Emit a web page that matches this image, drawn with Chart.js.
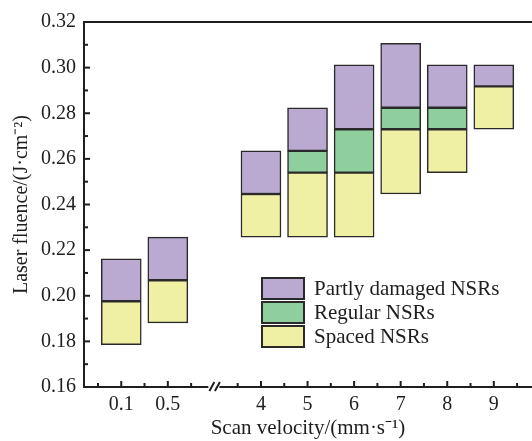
<!DOCTYPE html>
<html>
<head>
<meta charset="utf-8">
<title>Laser fluence vs scan velocity</title>
<script src="https://cdn.jsdelivr.net/npm/chart.js@4.4.1/dist/chart.umd.min.js"></script>
<style>
  html, body { margin: 0; padding: 0; background: #fff; }
  #wrap { width: 532px; height: 441px; }
</style>
</head>
<body>
<div id="wrap"><canvas id="chart" width="532" height="441"></canvas></div>
<script>
// scan velocities (mm/s); an axis break sits between 0.5 and 4
var velocities = ['0.1', '0.5', '4', '5', '6', '7', '8', '9'];
var breakAfter = 1;

// fluence ranges [low, high] in J/cm^2, null = not observed
var partlyDamaged = [[0.1976, 0.2162], [0.2068, 0.2257], [0.2446, 0.2635], [0.2635, 0.2824],
                     [0.2730, 0.3012], [0.2824, 0.3107], [0.2824, 0.3012], [0.2918, 0.3012]];
var regular       = [null, null, null, [0.2540, 0.2635],
                     [0.2540, 0.2730], [0.2730, 0.2824], [0.2730, 0.2824], null];
var spaced        = [[0.1786, 0.1976], [0.1881, 0.2068], [0.2257, 0.2446], [0.2257, 0.2540],
                     [0.2257, 0.2540], [0.2446, 0.2730], [0.2540, 0.2730], [0.2730, 0.2918]];

var yTicks = [0.16, 0.18, 0.20, 0.22, 0.24, 0.26, 0.28, 0.30, 0.32];

var FONT = "'Liberation Serif', 'Times New Roman', serif";
var INK = '#1e1e1e';

// position of each category on the linear x axis (one slot skipped for the break)
function slot(i) { return i > breakAfter ? i + 1 : i; }
var breakPos = breakAfter + 1;

function toPoints(ranges) {
    var pts = [];
    ranges.forEach(function (r, i) {
        if (r) pts.push({ x: slot(i), y: r });
    });
    return pts;
}

function makeSet(label, ranges, color) {
    return {
        label: label,
        data: toPoints(ranges),
        backgroundColor: color,
        borderColor: '#2a2a2a',
        borderWidth: 1.5,
        borderSkipped: false,
        barThickness: 40,
        grouped: false
    };
}

// inward ticks, top frame, axis break and legend
var extras = {
    id: 'extras',
    afterDraw: function (chart) {
        var ctx = chart.ctx;
        var xs = chart.scales.x, ys = chart.scales.y;
        var area = chart.chartArea;
        ctx.save();
        ctx.strokeStyle = INK;
        ctx.lineWidth = 2;

        // top frame
        ctx.beginPath();
        ctx.moveTo(area.left - 1, area.top);
        ctx.lineTo(area.right, area.top);
        ctx.stroke();

        // y ticks (major every 0.02, minor between)
        for (var v = 0.16; v <= 0.3201; v += 0.01) {
            var py = ys.getPixelForValue(v);
            var major = Math.round(v * 100) % 2 === 0;
            if (Math.abs(v - 0.16) < 1e-6 || Math.abs(v - 0.32) < 1e-6) continue;
            ctx.beginPath();
            ctx.moveTo(area.left, py);
            ctx.lineTo(area.left + (major ? 6 : 4), py);
            ctx.stroke();
        }

        // x ticks
        for (var t = -0.5; t <= xs.max; t += 0.5) {
            if (Math.abs(t - breakPos) < 1e-6) continue;
            var px = xs.getPixelForValue(t);
            var isMajor = Math.abs(t - Math.round(t)) < 1e-6;
            ctx.beginPath();
            ctx.moveTo(px, area.bottom);
            ctx.lineTo(px, area.bottom - (isMajor ? 6 : 4));
            ctx.stroke();
        }

        // axis break
        var bx = xs.getPixelForValue(breakPos);
        ctx.fillStyle = '#fff';
        ctx.fillRect(bx - 6, area.bottom - 3, 11, 6);
        ctx.beginPath();
        ctx.moveTo(bx - 5, area.bottom + 4);
        ctx.lineTo(bx, area.bottom - 5);
        ctx.moveTo(bx + 0.5, area.bottom + 4);
        ctx.lineTo(bx + 5.5, area.bottom - 5);
        ctx.stroke();

        // legend
        ctx.font = '21px ' + FONT;
        ctx.textBaseline = 'middle';
        ctx.textAlign = 'left';
        chart.data.datasets.forEach(function (ds, i) {
            var top = 278 + i * 24;
            ctx.fillStyle = ds.backgroundColor;
            ctx.fillRect(262, top, 42, 21);
            ctx.lineWidth = 2;
            ctx.strokeStyle = '#2a2a2a';
            ctx.strokeRect(262, top, 42, 21);
            ctx.fillStyle = INK;
            ctx.fillText(ds.label, 314, top + 11);
        });
        ctx.restore();
    }
};

var ctx = document.getElementById('chart').getContext('2d');
var chart = new Chart(ctx, {
    type: 'bar',
    data: {
        datasets: [
            makeSet('Partly damaged NSRs', partlyDamaged, '#baa9d0'),
            makeSet('Regular NSRs', regular, '#8fcf9e'),
            makeSet('Spaced NSRs', spaced, '#eff0a4')
        ]
    },
    options: {
        responsive: false,
        animation: false,
        devicePixelRatio: 1,
        layout: { padding: { top: 22, right: 0, left: 0, bottom: 0 } },
        plugins: {
            legend: { display: false },
            tooltip: { enabled: false }
        },
        scales: {
            x: {
                type: 'linear',
                min: -0.8,
                max: 8.82,
                offset: false,
                grid: { display: false, drawTicks: false },
                border: { display: true, width: 2, color: INK },
                afterBuildTicks: function (scale) {
                    scale.ticks = velocities.map(function (v, i) { return { value: slot(i) }; });
                },
                afterFit: function (scale) { scale.height = 54; },
                ticks: {
                    padding: 6,
                    color: INK,
                    font: { family: FONT, size: 20 },
                    callback: function (value) {
                        var i = velocities.findIndex(function (v, k) { return slot(k) === value; });
                        return i >= 0 ? velocities[i] : '';
                    }
                },
                title: {
                    display: true,
                    text: 'Scan velocity/(mm·s⁻¹)',
                    color: INK,
                    font: { family: FONT, size: 21 },
                    padding: { top: 0, bottom: 0 }
                }
            },
            y: {
                min: 0.16,
                max: 0.32,
                grid: { display: false, drawTicks: false },
                border: { display: true, width: 2, color: INK },
                afterBuildTicks: function (scale) {
                    scale.ticks = yTicks.map(function (v) { return { value: v }; });
                },
                afterFit: function (scale) { scale.width = 84; },
                ticks: {
                    padding: 8,
                    color: INK,
                    font: { family: FONT, size: 20 },
                    callback: function (value) { return value.toFixed(2); }
                },
                title: {
                    display: true,
                    text: 'Laser fluence/(J·cm⁻²)',
                    color: INK,
                    font: { family: FONT, size: 20 },
                    padding: { top: 10, bottom: 0 }
                }
            }
        }
    },
    plugins: [extras]
});
</script>
</body>
</html>
